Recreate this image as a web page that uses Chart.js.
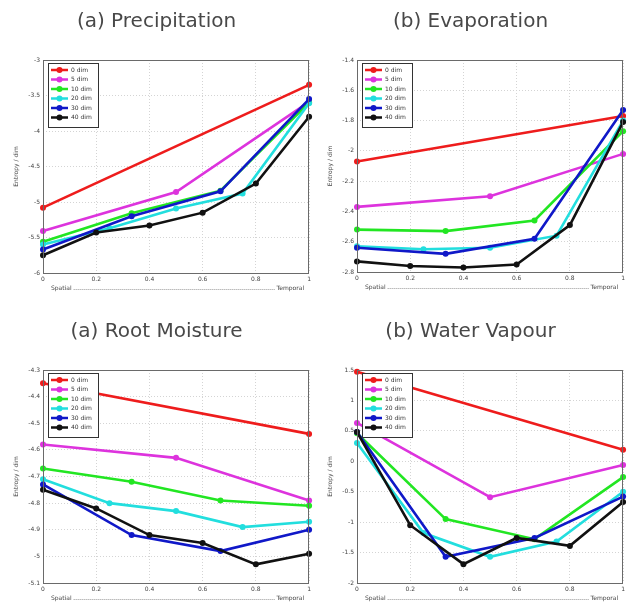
<!DOCTYPE html>
<html><head><meta charset="utf-8">
<script src="https://cdn.jsdelivr.net/npm/chart.js@4.4.1/dist/chart.umd.min.js"></script>
<style>
html,body{margin:0;padding:0;background:#fff;width:628px;height:603px;overflow:hidden;}
.p{position:absolute;}
</style></head><body>
<div class="p" style="left:0;top:0;width:314px;height:300px"><canvas id="c1" width="314" height="300"></canvas></div>
<div class="p" style="left:314px;top:0;width:314px;height:300px"><canvas id="c2" width="314" height="300"></canvas></div>
<div class="p" style="left:0;top:300px;width:314px;height:303px"><canvas id="c3" width="314" height="303"></canvas></div>
<div class="p" style="left:314px;top:300px;width:314px;height:303px"><canvas id="c4" width="314" height="303"></canvas></div>
<script>
// ---- data ----
const seriesLabels = ['0 dim','5 dim','10 dim','20 dim','30 dim','40 dim'];
const seriesColors = ['#ee1c1c','#dd33dd','#22e622','#22dede','#1018c8','#111111'];
const xRed   = [0, 1];
const xMag   = [0, 0.5, 1];
const xGreen = [0, 0.333, 0.667, 1];
const xCyan  = [0, 0.25, 0.5, 0.75, 1];
const xBlue  = [0, 0.333, 0.667, 1];
const xBlack = [0, 0.2, 0.4, 0.6, 0.8, 1];
const xTicks = [0, 0.2, 0.4, 0.6, 0.8, 1];

const precipRed   = [-5.08, -3.35];
const precipMag   = [-5.41, -4.86, -3.59];
const precipGreen = [-5.56, -5.16, -4.84, -3.60];
const precipCyan  = [-5.60, -5.37, -5.09, -4.88, -3.61];
const precipBlue  = [-5.67, -5.20, -4.85, -3.55];
const precipBlack = [-5.75, -5.43, -5.33, -5.15, -4.74, -3.80];
const precipYTicks = [-3, -3.5, -4, -4.5, -5, -5.5, -6];

const evapRed   = [-2.07, -1.77];
const evapMag   = [-2.37, -2.30, -2.02];
const evapGreen = [-2.52, -2.53, -2.46, -1.87];
const evapCyan  = [-2.63, -2.65, -2.64, -2.56, -1.80];
const evapBlue  = [-2.64, -2.68, -2.58, -1.73];
const evapBlack = [-2.73, -2.76, -2.77, -2.75, -2.49, -1.81];
const evapYTicks = [-1.4, -1.6, -1.8, -2, -2.2, -2.4, -2.6, -2.8];

const rootRed   = [-4.35, -4.54];
const rootMag   = [-4.58, -4.63, -4.79];
const rootGreen = [-4.67, -4.72, -4.79, -4.81];
const rootCyan  = [-4.71, -4.80, -4.83, -4.89, -4.87];
const rootBlue  = [-4.73, -4.92, -4.98, -4.90];
const rootBlack = [-4.75, -4.82, -4.92, -4.95, -5.03, -4.99];
const rootYTicks = [-4.3, -4.4, -4.5, -4.6, -4.7, -4.8, -4.9, -5, -5.1];

const vapRed   = [1.47, 0.19];
const vapMag   = [0.63, -0.59, -0.06];
const vapGreen = [0.46, -0.95, -1.28, -0.26];
const vapCyan  = [0.30, -1.18, -1.57, -1.32, -0.50];
const vapBlue  = [0.48, -1.57, -1.26, -0.58];
const vapBlack = [0.48, -1.05, -1.69, -1.26, -1.39, -0.67];
const vapYTicks = [1.5, 1, 0.5, 0, -0.5, -1, -1.5, -2];

const xSets = [xRed, xMag, xGreen, xCyan, xBlue, xBlack];

// ---- plugins ----
const framePlugin = {
  id: 'frame',
  afterDatasetsDraw(chart) {
    const ctx = chart.ctx, a = chart.chartArea;
    ctx.save();
    ctx.strokeStyle = '#6a6a6a'; ctx.lineWidth = 1;
    ctx.strokeRect(Math.round(a.left)+0.5, Math.round(a.top)+0.5, Math.round(a.right-a.left)-1, Math.round(a.bottom-a.top));
    // legend
    const x0 = a.left + 5, y0 = a.top + 3, w = 50, rowH = 9.5, h = 64;
    ctx.fillStyle = '#fff';
    ctx.fillRect(x0, y0, w, h);
    ctx.strokeStyle = '#333'; ctx.lineWidth = 1;
    ctx.strokeRect(x0+0.5, y0+0.5, w, h);
    ctx.font = '6px "DejaVu Sans"'; ctx.textBaseline = 'middle'; ctx.textAlign = 'left';
    chart.data.datasets.forEach((ds, i) => {
      const y = y0 + 7 + i*rowH;
      ctx.strokeStyle = ds.borderColor; ctx.lineWidth = 2.5;
      ctx.beginPath(); ctx.moveTo(x0+3, y); ctx.lineTo(x0+20, y); ctx.stroke();
      ctx.fillStyle = ds.borderColor;
      ctx.beginPath(); ctx.arc(x0+11.5, y, 3, 0, Math.PI*2); ctx.fill();
      ctx.fillStyle = '#333';
      ctx.fillText(ds.label, x0+23, y);
    });
    ctx.restore();
  },
  afterDraw(chart) {
    const ctx = chart.ctx, a = chart.chartArea;
    ctx.save();
    ctx.font = '6px "DejaVu Sans"'; ctx.fillStyle = '#444'; ctx.textBaseline = 'middle';
    const y = a.bottom + 15.5;
    ctx.textAlign = 'left'; ctx.fillText('Spatial', a.left + 8, y);
    const w1 = ctx.measureText('Spatial').width;
    ctx.textAlign = 'right'; ctx.fillText('Temporal', a.right - 5, y);
    const w2 = ctx.measureText('Temporal').width;
    ctx.strokeStyle = '#999'; ctx.lineWidth = 1; ctx.setLineDash([1,1]);
    ctx.beginPath(); ctx.moveTo(a.left + 10 + w1, Math.round(y)+0.5); ctx.lineTo(a.right - 7 - w2, Math.round(y)+0.5); ctx.stroke();
    ctx.restore();
  }
};

function makeChart(id, title, ySets, yTicks, topPad, plotTop, xAxisH) {
  const datasets = ySets.map((ys, i) => ({
    label: seriesLabels[i],
    data: ys.map((v, j) => ({x: xSets[i][j], y: v})),
    borderColor: seriesColors[i],
    backgroundColor: seriesColors[i],
    borderWidth: 2.6,
    pointRadius: 3,
    pointHoverRadius: 3,
    pointBorderWidth: 0,
    showLine: true,
    tension: 0,
    clip: false,
    order: ySets.length - i
  }));
  const ymax = Math.max(...yTicks), ymin = Math.min(...yTicks);
  new Chart(document.getElementById(id), {
    type: 'scatter',
    data: { datasets },
    plugins: [framePlugin],
    options: {
      responsive: false, animation: false,
      layout: { padding: { top: 0, right: 1, left: 0, bottom: 0 } },
      plugins: {
        legend: { display: false }, tooltip: { enabled: false },
        title: { display: true, text: title, color: '#484848',
          font: { family: 'DejaVu Sans', size: 20, weight: 'normal', lineHeight: 1.2 },
          padding: { top: topPad, bottom: plotTop - topPad - 24 } }
      },
      scales: {
        x: { type: 'linear', min: 0, max: 1,
          afterBuildTicks: s => { s.ticks = xTicks.map(v => ({value: v})); },
          afterFit: s => { s.height = xAxisH; },
          grid: { color: '#d4d4d4', lineWidth: 1, drawTicks: false },
          border: { display: false, dash: [1, 2] },
          ticks: { padding: 3, color: '#444', font: { family: 'DejaVu Sans', size: 6 }, maxRotation: 0,
            callback: v => String(v) }
        },
        y: { type: 'linear', min: ymin, max: ymax,
          afterBuildTicks: s => { s.ticks = yTicks.map(v => ({value: v})); },
          afterFit: s => { s.width = 43; },
          grid: { color: '#d4d4d4', lineWidth: 1, drawTicks: false },
          border: { display: false, dash: [1, 2] },
          title: { display: true, text: 'Entropy / dim', color: '#444', font: { family: 'DejaVu Sans', size: 6 }, padding: { top: 13, bottom: 0 } },
          ticks: { padding: 3, color: '#444', font: { family: 'DejaVu Sans', size: 6 },
            callback: v => String(v) }
        }
      }
    }
  });
}

makeChart('c1', '(a) Precipitation', [precipRed, precipMag, precipGreen, precipCyan, precipBlue, precipBlack], precipYTicks, 10, 60, 27);
makeChart('c2', '(b) Evaporation', [evapRed, evapMag, evapGreen, evapCyan, evapBlue, evapBlack], evapYTicks, 10, 60, 28);
makeChart('c3', '(a) Root Moisture', [rootRed, rootMag, rootGreen, rootCyan, rootBlue, rootBlack], rootYTicks, 20, 70, 20);
makeChart('c4', '(b) Water Vapour', [vapRed, vapMag, vapGreen, vapCyan, vapBlue, vapBlack], vapYTicks, 20, 70, 20);
</script>
</body></html>
